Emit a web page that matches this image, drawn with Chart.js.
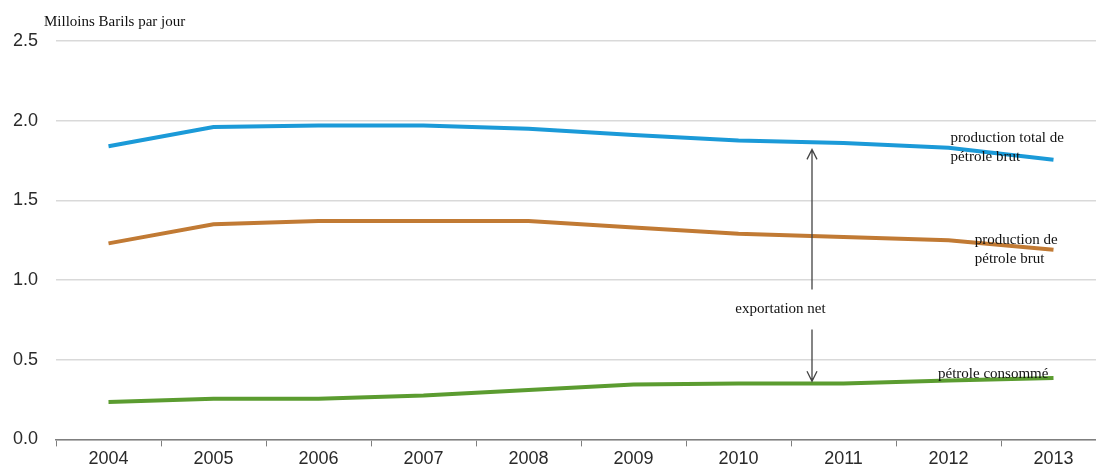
<!DOCTYPE html>
<html>
<head>
<meta charset="utf-8">
<script src="https://cdn.jsdelivr.net/npm/chart.js@4"></script>
<style>
  html, body { margin: 0; padding: 0; background: #fff; overflow: hidden; }
  #wrap { position: relative; width: 1106px; height: 472px; }
</style>
</head>
<body>
<div id="wrap"><canvas id="chart" width="1106" height="472"></canvas></div>
<script>
const years = ["2004", "2005", "2006", "2007", "2008", "2009", "2010", "2011", "2012", "2013"];
const totalProduction = [1.84, 1.96, 1.97, 1.97, 1.95, 1.91, 1.875, 1.86, 1.83, 1.755];
const crudeProduction = [1.23, 1.35, 1.37, 1.37, 1.37, 1.33, 1.29, 1.27, 1.25, 1.19];
const consumption = [0.235, 0.255, 0.255, 0.275, 0.31, 0.345, 0.35, 0.35, 0.37, 0.385];
const yTicks = [0, 0.5, 1, 1.5, 2, 2.5];

const serif = "'Liberation Serif', 'Times New Roman', serif";

// labels and arrow drawn over the chart, placed through the scales
const annotations = {
  id: "annotations",
  afterDatasetsDraw(chart) {
    const { ctx, scales: { x, y } } = chart;
    const at = (i) => x.getPixelForValue(i);
    ctx.save();
    ctx.fillStyle = "#111";
    ctx.font = "15px " + serif;
    ctx.textBaseline = "middle";
    ctx.textAlign = "left";
    ctx.fillText("Milloins Barils par jour", 44, 22);

    ctx.fillText("production total de", at(8.02), y.getPixelForValue(1.89));
    ctx.fillText("pétrole brut", at(8.02), y.getPixelForValue(1.77));
    ctx.fillText("production de", at(8.25), y.getPixelForValue(1.25));
    ctx.fillText("pétrole brut", at(8.25), y.getPixelForValue(1.13));
    ctx.fillText("pétrole consommé", at(7.9), y.getPixelForValue(0.41));
    ctx.textAlign = "center";
    ctx.fillText("exportation net", at(6.4), y.getPixelForValue(0.815));

    // double arrow with a gap for the text
    const ax = at(6.7);
    const top = y.getPixelForValue(1.82);
    const bot = y.getPixelForValue(0.365);
    ctx.strokeStyle = "#444";
    ctx.lineWidth = 1.3;
    ctx.beginPath();
    ctx.moveTo(ax, top);
    ctx.lineTo(ax, y.getPixelForValue(0.94));
    ctx.moveTo(ax, y.getPixelForValue(0.69));
    ctx.lineTo(ax, bot);
    ctx.moveTo(ax - 5, top + 10);
    ctx.lineTo(ax, top);
    ctx.lineTo(ax + 5, top + 10);
    ctx.moveTo(ax - 5, bot - 10);
    ctx.lineTo(ax, bot);
    ctx.lineTo(ax + 5, bot - 10);
    ctx.stroke();
    ctx.restore();
  }
};

const line = (data, color) => ({
  data: data,
  borderColor: color,
  backgroundColor: color,
  borderWidth: 4,
  pointRadius: 0,
  tension: 0,
  fill: false,
});

new Chart(document.getElementById("chart"), {
  type: "line",
  data: {
    labels: years,
    datasets: [
      line(totalProduction, "#1b9ad8"),
      line(crudeProduction, "#c17a34"),
      line(consumption, "#5b9c30"),
    ],
  },
  options: {
    responsive: false,
    animation: false,
    layout: { padding: { top: 41, right: 0, left: 0, bottom: 0 } },
    plugins: {
      legend: { display: false },
      tooltip: { enabled: false },
    },
    scales: {
      x: {
        offset: true,
        grid: {
          offset: true,
          drawOnChartArea: false,
          drawTicks: true,
          tickLength: 7,
          color: "#7f7f7f",
        },
        border: { color: "#7f7f7f", width: 1.5 },
        ticks: {
          color: "#2a2a2a",
          font: { family: "'Liberation Sans', Arial, sans-serif", size: 18 },
          padding: 2,
          maxRotation: 0,
        },
      },
      y: {
        min: 0,
        max: 2.5,
        afterBuildTicks: (scale) => {
          scale.ticks = yTicks.map((v) => ({ value: v }));
        },
        afterFit: (scale) => {
          scale.width = 56;
        },
        grid: { color: "#d9d9d9", lineWidth: 1.5, drawTicks: false },
        border: { display: false },
        ticks: {
          color: "#2a2a2a",
          padding: 18,
          font: { family: "'Liberation Sans', Arial, sans-serif", size: 18 },
          callback: (v) => Number(v).toFixed(1),
        },
      },
    },
  },
  plugins: [annotations],
});
</script>
</body>
</html>
